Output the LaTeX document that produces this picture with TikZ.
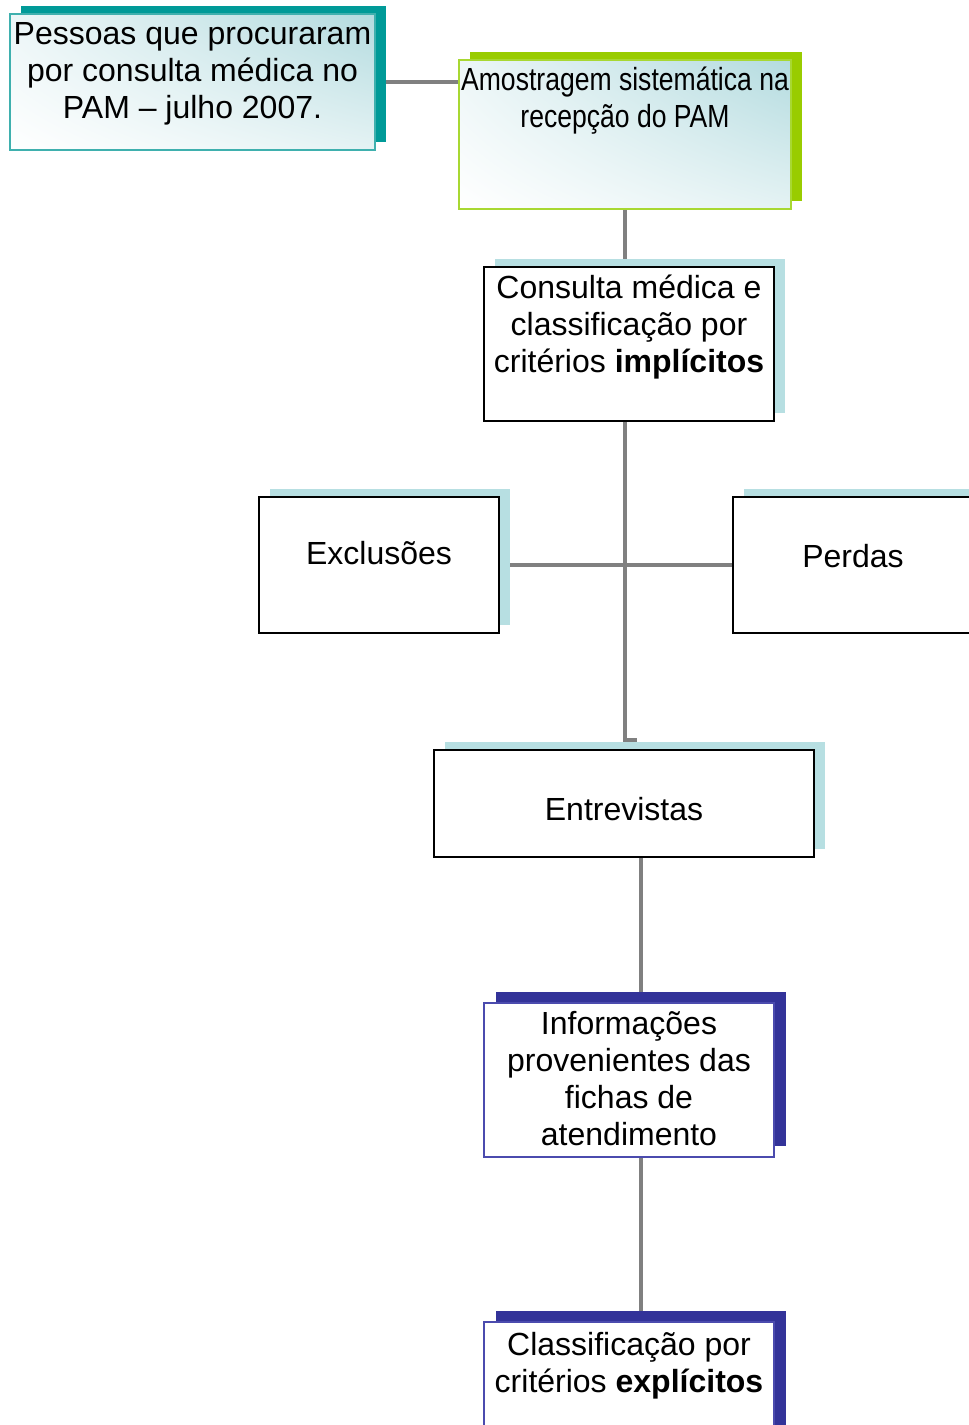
\documentclass[tikz,border=0pt]{standalone}
\usepackage{fontspec}
\setmainfont{Liberation Sans}
\usetikzlibrary{shadows,backgrounds,shadings}
\definecolor{tealsh}{HTML}{009A98}
\definecolor{tealbd}{HTML}{3FB0AE}
\definecolor{greensh}{HTML}{99CC00}
\definecolor{greenbd}{HTML}{A8D832}
\definecolor{lbsh}{HTML}{B7DFE2}
\definecolor{gradblue}{HTML}{B3DBDF}
\definecolor{dbsh}{HTML}{333399}
\definecolor{dbbd}{HTML}{4B4BAE}
\definecolor{conn}{HTML}{808080}
\begin{document}
\begin{tikzpicture}[x=0.75pt,y=-0.75pt,
  sz/.style 2 args={minimum width=0.75pt*#1, minimum height=0.75pt*#2},
  box/.style={rectangle, inner sep=0pt, draw=black, line width=1.5pt, fill=white},
  lbshadow/.style={drop shadow={shadow xshift=8.25pt, shadow yshift=6pt, fill=lbsh, opacity=1}},
  dbshadow/.style={drop shadow={shadow xshift=9pt, shadow yshift=8.6pt, fill=dbsh, opacity=1}},
  gradbox/.style={shade, upper right=gradblue, lower right=gradblue!35, upper left=gradblue!25, lower left=white},
  lbl/.style={inner sep=0pt, align=center, font=\fontsize{24}{27.75}\selectfont},
  conline/.style={draw=conn, line width=3pt}
]
\useasboundingbox (0,0) rectangle (968,1425);

% boxes
\node[box, sz={365}{136}, draw=tealbd, gradbox,
  drop shadow={shadow xshift=8.25pt, shadow yshift=6pt, fill=tealsh, opacity=1}] (P) at (192.5,82) {};
\node[box, sz={332}{149}, draw=greenbd, gradbox,
  drop shadow={shadow xshift=8.25pt, shadow yshift=6pt, fill=greensh, opacity=1}] (A) at (625,134.5) {};
\node[box, sz={290}{154}, lbshadow] (C) at (629,344) {};
\node[box, sz={240}{136}, lbshadow] (E) at (379,565) {};
\node[box, sz={240}{136}, lbshadow] (Pd) at (853,565) {};
\node[box, sz={380}{107}, lbshadow] (En) at (624,803.5) {};
\node[box, sz={290}{154}, draw=dbbd, line width=1pt, dbshadow] (I) at (629,1080) {};
\node[box, sz={290}{154}, draw=dbbd, line width=1pt, dbshadow] (Cl) at (629,1399) {};

% labels
\node[lbl, below=6.75pt] (tP) at (P.north) {Pessoas que procuraram\\por consulta médica no\\PAM – julho 2007.};
\node[lbl, below=6pt] (tA) at (A.north) {\scalebox{0.83}[1]{Amostragem sistemática na}\\\scalebox{0.83}[1]{recepção do PAM}};
\node[lbl, below=6.75pt] (tC) at (C.north) {Consulta médica e\\classificação por\\critérios \textbf{implícitos}};
\node[lbl, below=33.75pt] (tE) at (E.north) {Exclusões};
\node[lbl, below=36pt] (tPd) at (Pd.north) {Perdas};
\node[lbl, below=36pt] (tEn) at (En.north) {Entrevistas};
\node[lbl, below=6.5pt] (tI) at (I.north) {Informações\\provenientes das\\fichas de\\atendimento};
\node[lbl, below=8.25pt] (tCl) at (Cl.north) {Classificação por\\critérios \textbf{explícitos}};

% connectors
\coordinate (xa) at (625,0);
\coordinate (xb) at (641,0);
\coordinate (hook) at (637,740);
\begin{pgfonlayer}{background}
\draw[conline] (P.east) -- (P.east -| A.west);
\draw[conline] (A.south -| xa) -- (C.north -| xa);
\draw[conline] (C.south -| xa) -- (hook -| xa) -- (hook);
\draw[conline] (E.east) -- (Pd.west);
\draw[conline] (En.south -| xb) -- (I.north -| xb);
\draw[conline] (I.south -| xb) -- (Cl.north -| xb);
\end{pgfonlayer}
\end{tikzpicture}
\end{document}
